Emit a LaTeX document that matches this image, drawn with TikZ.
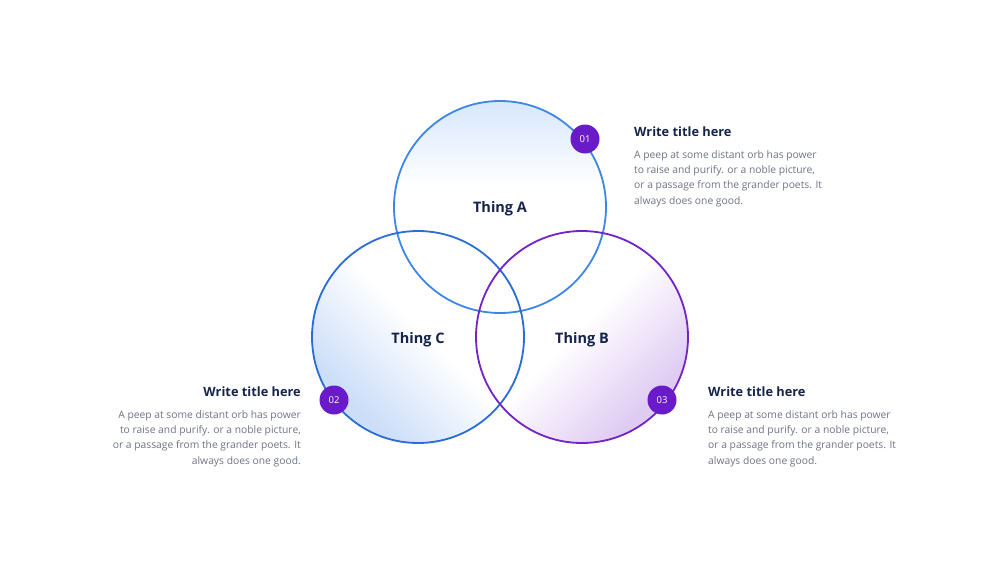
\documentclass[tikz,border=0pt]{standalone}
\usepackage{fontspec}
\setmainfont{Open Sans}
\definecolor{navy}{HTML}{16244A}
\definecolor{bodygray}{HTML}{6E7386}
\definecolor{strokeA}{HTML}{3F87E6}
\definecolor{strokeC}{HTML}{2A6DD6}
\definecolor{strokeB}{HTML}{7323C6}
\definecolor{badge}{HTML}{6A1BC9}
\definecolor{fillA}{HTML}{D8E7FC}
\definecolor{fillC}{HTML}{CCDEF9}
\definecolor{fillB}{HTML}{E0CCF3}
\pgfdeclareverticalshading{shA}{100bp}{color(0bp)=(white); color(55bp)=(white); color(75bp)=(fillA); color(100bp)=(fillA)}
\pgfdeclareverticalshading{shC}{100bp}{color(0bp)=(fillC); color(28bp)=(fillC); color(52bp)=(white); color(100bp)=(white)}
\pgfdeclareverticalshading{shB}{100bp}{color(0bp)=(fillB); color(28bp)=(fillB); color(52bp)=(white); color(100bp)=(white)}
\tikzset{
  ring/.style={line width=1.8pt},
  badgenode/.style={circle, fill=badge, minimum size=29pt, inner sep=0pt, text=white, font=\fontsize{9.5}{9.5}\selectfont},
  thing/.style={text=navy, font=\fontsize{14.5}{14.5}\selectfont\bfseries},
  titletext/.style={text=navy, font=\fontsize{12.8}{12.8}\selectfont\bfseries, inner sep=0pt},
  bodytext/.style={text=bodygray, font=\fontsize{10.3}{15.2}\selectfont, inner sep=0pt},
}
\begin{document}
\begin{tikzpicture}[x=1pt,y=-1pt]
\useasboundingbox (0,0) rectangle (1000,562);
\fill[white] (0,0) rectangle (1000,562);
% fills
\shade[shading=shA] (500,207) circle (106);
\shade[shading=shC, shading angle=-45] (418,337) circle (106);
\shade[shading=shB, shading angle=45] (582,337) circle (106);
% strokes
\draw[ring, strokeA] (500,207) circle (106);
\draw[ring, strokeC] (418,337) circle (106);
\draw[ring, strokeB] (582,337) circle (106);
% labels
\node[thing] (tA) at (500,209) {Thing A};
\node[thing] (tC) at (418,340) {Thing C};
\node[thing] (tB) at (582,340) {Thing B};
% badges
\node[badgenode] (b1) at (585,139) {01};
\node[badgenode] (b2) at (334,400) {02};
\node[badgenode] (b3) at (662,400) {03};
% text blocks
\node[titletext, anchor=base west] (t1) at (634,136.5) {Write title here};
\node[bodytext, anchor=north west, align=left] (d1) at (634,150.5) {A peep at some distant orb has power\\to raise and purify. or a noble picture,\\or a passage from the grander poets. It\\always does one good.};
\node[titletext, anchor=base east] (t2) at (301,396.5) {Write title here};
\node[bodytext, anchor=north east, align=right] (d2) at (301,410.5) {A peep at some distant orb has power\\to raise and purify. or a noble picture,\\or a passage from the grander poets. It\\always does one good.};
\node[titletext, anchor=base west] (t3) at (708,396.5) {Write title here};
\node[bodytext, anchor=north west, align=left] (d3) at (708,410.5) {A peep at some distant orb has power\\to raise and purify. or a noble picture,\\or a passage from the grander poets. It\\always does one good.};
\end{tikzpicture}
\end{document}
